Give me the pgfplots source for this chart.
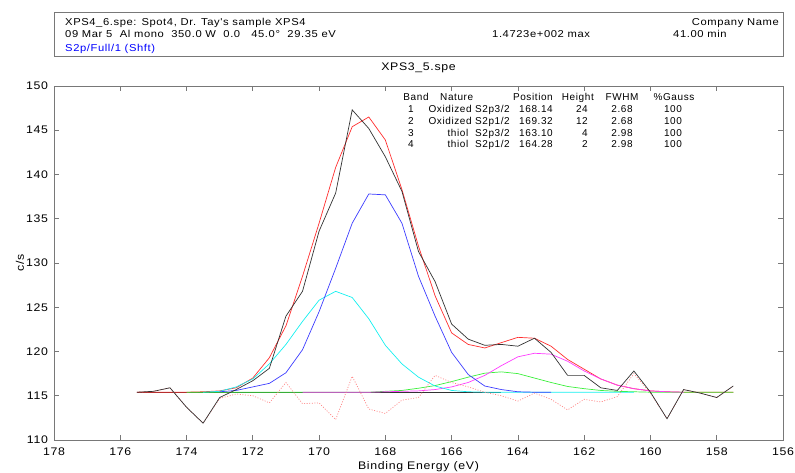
\documentclass[border=0pt]{standalone}
\usepackage{pgfplots}
\pgfplotsset{compat=1.18}
\usepackage{fontspec}
\setmainfont{Liberation Sans}[LetterSpace=6]
\newfontfamily\wf{Liberation Sans}[FakeStretch=1.12, LetterSpace=6]
\definecolor{rawc}{RGB}{50,50,50}
\definecolor{envc}{RGB}{255,45,45}
\definecolor{bluec}{RGB}{60,60,255}
\definecolor{cyanc}{RGB}{20,240,240}
\definecolor{magc}{RGB}{255,60,255}
\definecolor{grnc}{RGB}{60,240,60}
\definecolor{resc}{RGB}{255,130,130}
\definecolor{framec}{RGB}{120,120,120}
\newcommand{\tc}[4]{\node[anchor=#1, inner sep=0pt] at (#2,#3) {#4};}
\newcommand{\hc}[4]{\node[anchor=#1, inner sep=0pt, font=\wf\fontsize{10}{12}\selectfont] at (#2,#3) {#4};}
\begin{document}
\fontsize{10}{12}\selectfont
\begin{tikzpicture}[x=1pt,y=1pt]
\useasboundingbox (0,0) rectangle (795,472);
\begin{axis}[
  at={(54pt,32pt)}, anchor=south west, scale only axis,
  width=729pt, height=354pt,
  x dir=reverse, xmin=156, xmax=178, ymin=110, ymax=150,
  xtick={156,158,...,178}, ytick={110,115,...,150},
  tick align=inside, major tick length=5pt,
  axis line style={draw=framec, line width=0.7pt},
  tick style={draw=framec, line width=0.7pt},
  tick label style={font=\wf\fontsize{11}{13}\selectfont, /pgf/number format/assume math mode=true},
  xticklabel style={yshift=-4.5pt},
  yticklabel style={xshift=-2.5pt},
  title={XPS3\_5.spe},
  title style={at={(axis description cs:0.5,1)}, anchor=base, yshift=9.6pt, font=\wf\fontsize{11}{13}\selectfont},
  xlabel={Binding Energy (eV)},
  xlabel style={at={(axis description cs:0.5,0)}, anchor=base, yshift=-29.4pt, font=\wf\fontsize{11}{13}\selectfont},
  ylabel={c/s},
  ylabel style={at={(axis description cs:-0.0466,0.5)}, anchor=center, font=\wf\fontsize{11}{13}\selectfont},
]
% background
\addplot[rawc, line width=0.7pt] coordinates {(175.5,115.4) (164.5,115.4)};
% envelope
\addplot[envc, line width=0.7pt] coordinates {
(175.5,115.4) (175.0,115.4) (174.5,115.4) (174.0,115.4) (173.5,115.45) (173.0,115.55)
(172.5,115.9) (172.0,117.0) (171.5,119.3) (171.0,122.9) (170.5,128.5) (170.0,134.5)
(169.5,140.8) (169.0,145.4) (168.5,146.5) (168.0,143.9) (167.5,138.3) (167.0,131.9)
(166.5,126.3) (166.0,122.1) (165.5,120.8) (165.0,120.4) (164.5,121.0) (164.0,121.6)
(163.5,121.5) (163.0,120.6) (162.5,119.1) (162.0,118.0) (161.5,116.9) (161.0,116.2)
(160.5,115.8) (160.0,115.55) (159.5,115.45) (159.0,115.4) (158.5,115.4) (158.0,115.4) (157.5,115.4)};
% band 4 thiol S2p1/2
\addplot[grnc, line width=0.7pt] coordinates {
(174.0,115.4) (173.0,115.4) (172.0,115.4) (171.0,115.4) (170.0,115.4) (169.0,115.4) (168.5,115.4)
(168.0,115.5) (167.5,115.6) (167.0,115.85) (166.5,116.15) (166.0,116.6) (165.5,117.1)
(165.0,117.55) (164.5,117.7) (164.0,117.5) (163.5,117.0) (163.0,116.5) (162.5,116.05)
(162.0,115.8) (161.5,115.6) (161.0,115.5) (160.5,115.45) (160.0,115.4) (159.0,115.4) (158.0,115.4) (157.5,115.4)};
% band 3 thiol S2p3/2
\addplot[magc, line width=0.7pt] coordinates {
(170.5,115.4) (169.5,115.4) (168.5,115.4) (168.0,115.45) (167.5,115.5) (167.0,115.55)
(166.5,115.7) (166.0,116.0) (165.5,116.5) (165.0,117.3) (164.5,118.4) (164.0,119.4)
(163.5,119.8) (163.0,119.7) (162.5,118.9) (162.0,117.8) (161.5,116.9) (161.0,116.2)
(160.5,115.8) (160.0,115.55) (159.5,115.45) (159.0,115.4)};
% band 2 oxidized S2p1/2
\addplot[cyanc, line width=0.7pt] coordinates {
(173.5,115.4) (173.0,115.5) (172.5,116.0) (172.0,116.9) (171.5,118.6) (171.0,120.8)
(170.5,123.4) (170.0,125.8) (169.5,126.8) (169.0,126.1) (168.5,123.7) (168.0,120.7)
(167.5,118.6) (167.0,117.1) (166.5,116.1) (166.0,115.6) (165.5,115.45) (165.0,115.4)
(164.0,115.4) (163.0,115.4) (162.0,115.4) (161.0,115.4) (160.5,115.4)};
% band 1 oxidized S2p3/2
\addplot[bluec, line width=0.7pt] coordinates {
(173.0,115.45) (172.5,115.6) (172.0,116.0) (171.5,116.4) (171.0,117.6) (170.5,120.2)
(170.0,124.5) (169.5,129.4) (169.0,134.5) (168.5,137.8) (168.0,137.7) (167.5,134.5)
(167.0,128.5) (166.5,124.0) (166.0,119.9) (165.5,117.4) (165.0,116.1) (164.5,115.7)
(164.0,115.45) (163.5,115.4) (163.0,115.4)};
% residual
\addplot[resc, line width=0.7pt, dash pattern=on 1pt off 1.6pt] coordinates {
(175.5,115.4) (175.0,115.5) (174.5,115.9) (174.0,113.7) (173.5,111.9) (173.0,114.7)
(172.5,115.2) (172.0,115.0) (171.5,114.2) (171.0,116.5) (170.5,114.1) (170.0,114.2)
(169.5,112.3) (169.0,117.2) (168.5,113.5) (168.0,113.0) (167.5,114.5) (167.0,114.8)
(166.5,117.3) (166.0,116.5) (165.5,116.0) (165.0,115.4) (164.5,115.0) (164.0,114.4)
(163.5,115.3) (163.0,114.6) (162.5,113.4) (162.0,114.6) (161.5,114.3) (161.0,114.9)
(160.5,117.5) (160.0,115.3) (159.5,112.4) (159.0,115.7) (158.5,115.3) (158.0,114.8) (157.5,116.1)};
% raw data
\addplot[rawc, line width=0.7pt] coordinates {
(175.5,115.4) (175.0,115.5) (174.5,115.9) (174.0,113.7) (173.5,111.9) (173.0,114.8)
(172.5,115.7) (172.0,116.7) (171.5,118.1) (171.0,124.0) (170.5,126.8) (170.0,133.6)
(169.5,137.9) (169.0,147.3) (168.5,145.2) (168.0,142.0) (167.5,138.1) (167.0,131.3)
(166.5,127.9) (166.0,123.1) (165.5,121.4) (165.0,120.7) (164.5,120.8) (164.0,120.6)
(163.5,121.5) (163.0,119.9) (162.5,117.3) (162.0,117.3) (161.5,115.9) (161.0,115.6)
(160.5,117.8) (160.0,115.4) (159.5,112.4) (159.0,115.7) (158.5,115.3) (158.0,114.8) (157.5,116.1)};
\end{axis}
% header box
\draw[framec, line width=0.8pt] (54,415.5) rectangle (783,459.3);
\hc{base west}{65}{446.9}{XPS4\_6.spe: Spot4, Dr. Tay's sample XPS4}
\hc{base east}{779}{446.9}{Company Name}
\hc{base west}{65}{434.3}{09 Mar 5\ \ Al mono\ \ 350.0 W\ \ 0.0\ \ \ 45.0°\ \ 29.35 eV}
\hc{base west}{492}{434.3}{1.4723e+002 max}
\hc{base west}{673}{434.3}{41.00 min}
\hc{base west}{65}{420.9}{\color{blue}S2p/Full/1 (Shft)}
% band table
\tc{base}{416}{371.1}{Band}
\tc{base west}{440}{371.1}{Nature}
\tc{base east}{553}{371.1}{Position}
\tc{base east}{594}{371.1}{Height}
\tc{base}{622}{371.1}{FWHM}
\tc{base}{674}{371.1}{\%Gauss}
\tc{base}{411}{359.3}{1}
\tc{base east}{510}{359.3}{Oxidized S2p3/2}
\tc{base east}{553}{359.3}{168.14}
\tc{base east}{588}{359.3}{24}
\tc{base}{622}{359.3}{2.68}
\tc{base}{673}{359.3}{100}
\tc{base}{411}{347.6}{2}
\tc{base east}{510}{347.6}{Oxidized S2p1/2}
\tc{base east}{553}{347.6}{169.32}
\tc{base east}{588}{347.6}{12}
\tc{base}{622}{347.6}{2.68}
\tc{base}{673}{347.6}{100}
\tc{base}{411}{335.9}{3}
\tc{base east}{510}{335.9}{thiol\ \ S2p3/2}
\tc{base east}{553}{335.9}{163.10}
\tc{base east}{588}{335.9}{4}
\tc{base}{622}{335.9}{2.98}
\tc{base}{673}{335.9}{100}
\tc{base}{411}{324.3}{4}
\tc{base east}{510}{324.3}{thiol\ \ S2p1/2}
\tc{base east}{553}{324.3}{164.28}
\tc{base east}{588}{324.3}{2}
\tc{base}{622}{324.3}{2.98}
\tc{base}{673}{324.3}{100}
\end{tikzpicture}
\end{document}
